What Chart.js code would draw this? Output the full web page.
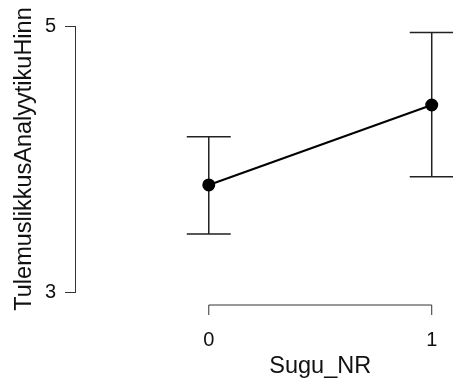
<!DOCTYPE html>
<html>
<head>
<meta charset="utf-8">
<script src="https://cdn.jsdelivr.net/npm/chart.js@4"></script>
<style>
  html, body { margin: 0; padding: 0; background: #fff; }
  #wrap { width: 453px; height: 381px; overflow: hidden; }
  #box { width: 573px; height: 381px; position: relative; }
</style>
</head>
<body>
<div id="wrap"><div id="box"><canvas id="plotSugu"></canvas></div></div>
<script>
// Sugu_NR groups and mean values with confidence interval
const groups = [0, 1];
const means = [3.805, 4.406];
const lowerCI = [3.436, 3.867];
const upperCI = [4.168, 4.952];
const yTicks = [3, 5];
const xTitle = 'Sugu_NR';
const yTitle = 'TulemuslikkusAnalyytikuHinn';

const axisColor = '#333';

// error bars drawn under the points
const errorBars = {
    id: 'errorBars',
    beforeDatasetsDraw(chart) {
        const ctx = chart.ctx;
        const xs = chart.scales.x, ys = chart.scales.y;
        ctx.save();
        ctx.strokeStyle = '#222';
        ctx.lineWidth = 1.5;
        groups.forEach(function(g, i) {
            const px = xs.getPixelForValue(g);
            const top = ys.getPixelForValue(upperCI[i]);
            const bot = ys.getPixelForValue(lowerCI[i]);
            ctx.beginPath();
            ctx.moveTo(px, top); ctx.lineTo(px, bot);
            ctx.moveTo(px - 22, top); ctx.lineTo(px + 22, top);
            ctx.moveTo(px - 22, bot); ctx.lineTo(px + 22, bot);
            ctx.stroke();
        });
        ctx.restore();
    }
};

// R-style x axis line spanning only the tick range
const xAxisLine = {
    id: 'xAxisLine',
    afterDraw(chart) {
        const ctx = chart.ctx;
        const xs = chart.scales.x;
        const y0 = chart.chartArea.bottom + 13;
        const a = xs.getPixelForValue(groups[0]);
        const b = xs.getPixelForValue(groups[groups.length - 1]);
        ctx.save();
        ctx.strokeStyle = axisColor;
        ctx.lineWidth = 1;
        ctx.beginPath();
        ctx.moveTo(a, y0 + 10); ctx.lineTo(a, y0); ctx.lineTo(b, y0); ctx.lineTo(b, y0 + 10);
        ctx.stroke();
        ctx.restore();
    }
};

const data = {
    datasets: [{
        data: groups.map((g, i) => ({x: g, y: means[i]})),
        borderColor: '#000',
        backgroundColor: '#000',
        borderWidth: 2,
        pointRadius: 5.5,
        pointHoverRadius: 5.5,
        showLine: true
    }]
};

const config = {
    type: 'scatter',
    data: data,
    options: {
        responsive: true,
        maintainAspectRatio: false,
        animation: false,
        events: [],
        layout: { padding: { top: 26, right: 1, left: 0, bottom: 0 } },
        plugins: {
            legend: { display: false },
            tooltip: { enabled: false }
        },
        scales: {
            x: {
                type: 'linear',
                min: -0.6,
                max: 1.6,
                afterBuildTicks: function(scale) {
                    scale.ticks = groups.map(v => ({value: v}));
                },
                afterFit: function(scale) { scale.height = 89; },
                grid: { display: false },
                border: { display: false },
                ticks: {
                    color: '#111',
                    padding: 28,
                    font: { family: 'Liberation Sans', size: 20 }
                },
                title: {
                    display: true,
                    text: xTitle,
                    color: '#111',
                    padding: { top: 0, bottom: 0 },
                    font: { family: 'Liberation Sans', size: 23.5 }
                }
            },
            y: {
                min: yTicks[0],
                max: yTicks[yTicks.length - 1],
                afterBuildTicks: function(scale) {
                    scale.ticks = yTicks.map(v => ({value: v}));
                },
                afterFit: function(scale) { scale.width = 75; },
                grid: {
                    drawOnChartArea: false,
                    tickLength: 10,
                    color: axisColor
                },
                border: { display: true, color: axisColor, width: 1 },
                ticks: {
                    color: '#111',
                    padding: 9,
                    font: { family: 'Liberation Sans', size: 20 }
                },
                title: {
                    display: true,
                    text: yTitle,
                    color: '#111',
                    padding: { top: 10, bottom: 0 },
                    font: { family: 'Liberation Sans', size: 23.5 }
                }
            }
        }
    },
    plugins: [errorBars, xAxisLine]
};

new Chart(document.getElementById('plotSugu').getContext('2d'), config);
</script>
</body>
</html>
